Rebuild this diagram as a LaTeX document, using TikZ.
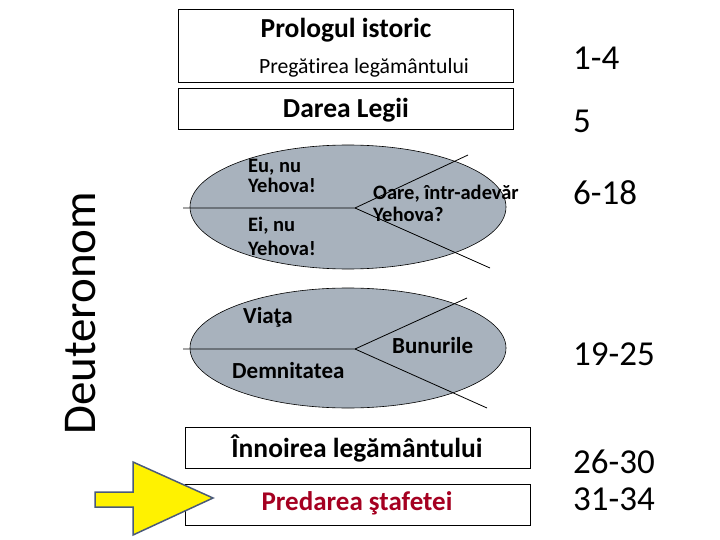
\documentclass[tikz,border=0pt]{standalone}
\usepackage{fontspec}
\setmainfont[Ligatures=NoCommon]{Carlito}
\usetikzlibrary{shapes.geometric}
\definecolor{ellfill}{RGB}{168,178,189}
\definecolor{darkred}{RGB}{165,0,33}
\definecolor{arrowline}{RGB}{74,90,122}
\newcommand{\fs}[1]{\fontsize{#1}{#1}\selectfont}
\begin{document}
\begin{tikzpicture}[x=1pt,y=-1pt,
  box/.style={draw=black, line width=0.8pt, fill=white, inner sep=0pt},
  ell/.style={ellipse, draw=black, line width=0.6pt, fill=ellfill, inner sep=0pt},
  cut/.style={draw=black, line width=0.8pt},
  head/.style={font=\fs{27.5}\bfseries, inner sep=0pt, anchor=base},
  inell/.style={font=\fs{20.5}\bfseries, inner sep=0pt, anchor=base west},
  inell2/.style={font=\fs{23}\bfseries, inner sep=0pt, anchor=base west},
  num/.style={font=\fs{35}, inner sep=0pt, anchor=base west}]
\useasboundingbox (0,0) rectangle (720,540);

% boxes
\node[box, minimum width=335pt, minimum height=73pt] (b1) at (345.5,45.5) {};
\node[box, minimum width=335pt, minimum height=41pt] (b2) at (345.5,108.5) {};
\node[box, minimum width=345pt, minimum height=41pt] (b3) at (357.5,447.5) {};
\node[box, minimum width=345pt, minimum height=41pt] (b4) at (357.5,504.5) {};

\node[head] (t1) at (346,38) {Prologul istoric};
\node[font=\fs{21.7}, inner sep=0pt, anchor=base] (t1b) at (364,74) {Pregătirea legământului};
\node[head] (t2) at (346,118) {Darea Legii};
\node[head] (t3) at (357,457) {Înnoirea legământului};
\node[head, text=darkred, font=\fs{27}\bfseries] (t4) at (357,510) {Predarea ştafetei};

% ellipse 1
\node[ell, minimum width=316pt, minimum height=124pt] (e1) at (348,207) {};
\coordinate (e1l) at (183,208);
\coordinate (e1c) at (355,208);
\coordinate (e1u) at (468,155);
\coordinate (e1d) at (490,268);
\draw[cut] (e1l) -- (e1c) -- (e1u);
\draw[cut] (e1c) -- (e1d);
\node[inell] (eu1) at (248,173) {Eu, nu};
\node[inell] (eu2) at (248,193) {Yehova!};
\node[inell] (ei1) at (248,232) {Ei, nu};
\node[inell] (ei2) at (248,255) {Yehova!};
\node[inell] (oa1) at (373,200) {Oare, într-adevăr};
\node[inell] (oa2) at (373,222) {Yehova?};

% ellipse 2
\node[ell, minimum width=316pt, minimum height=120pt] (e2) at (348,348) {};
\coordinate (e2l) at (183,349);
\coordinate (e2c) at (355,349);
\coordinate (e2u) at (467,298);
\coordinate (e2d) at (487,408);
\draw[cut] (e2l) -- (e2c) -- (e2u);
\draw[cut] (e2c) -- (e2d);
\node[inell2] (vi) at (243,323) {Viaţa};
\node[inell2] (bu) at (392,353) {Bunurile};
\node[inell2] (de) at (232,378) {Demnitatea};

% numbers
\node[num] (n1) at (573,70) {1-4};
\node[num] (n2) at (573,133) {5};
\node[num] (n3) at (573,205) {6-18};
\node[num] (n4) at (573,365) {19-25};
\node[num] (n5) at (573,473) {26-30};
\node[num] (n6) at (573,510) {31-34};

% side title
\node[font=\fs{47}, inner sep=0pt, anchor=base west, rotate=90] (deut) at (95,435) {Deuteronom};

% arrow
\draw[draw=arrowline, line width=1.5pt, fill=yellow, line join=miter]
  (95,492) -- (133,492) -- (133,462) -- (213,498) -- (133,535) -- (133,507) -- (95,507) -- cycle;
\end{tikzpicture}
\end{document}
